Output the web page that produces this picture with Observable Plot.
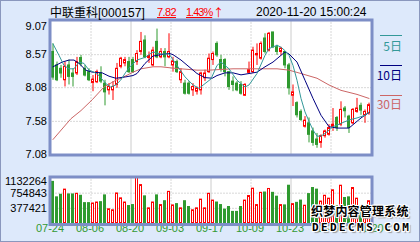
<!DOCTYPE html>
<html><head><meta charset="utf-8">
<script src="https://cdn.jsdelivr.net/npm/d3@7"></script>
<script src="https://cdn.jsdelivr.net/npm/@observablehq/plot@0.6"></script>
<style>
html,body{margin:0;padding:0;background:#dde9fb;}
#wrap{position:relative;width:420px;height:242px;background:#dde9fb;box-shadow:inset 0 0 0 1px #8a97bd;overflow:hidden;}
#wrap svg{position:absolute;left:0;top:0;}
.t{position:absolute;white-space:nowrap;line-height:12px;font-size:12px;}
.asc{font-family:"Liberation Sans",sans-serif;}
.cjk{font-family:"Noto Sans CJK SC",sans-serif;}
.wm{position:absolute;white-space:nowrap;color:#000;font-weight:bold;
 text-shadow:1px 0 0 #fff,-1px 0 0 #fff,0 1px 0 #fff,0 -1px 0 #fff,1px 1px 0 #fff,-1px -1px 0 #fff,1px -1px 0 #fff,-1px 1px 0 #fff,2px 2px 1px #999;}
</style></head>
<body>
<div id="wrap">
  <div class="t" style="left:50px;top:6px;"><span class="cjk">中联重科</span><span class="asc">[000157]</span></div>
  <div class="t asc" style="left:157px;top:6px;color:#f00;text-decoration:underline;font-size:11px;letter-spacing:-0.6px;">7.82</div>
  <div class="t asc" style="left:186px;top:6px;color:#f00;text-decoration:underline;font-size:11px;letter-spacing:-1px;">1.43%</div>
  <div class="t cjk" style="left:213px;top:6px;color:#f00;font-size:11px;">↑</div>
  <div class="t asc" style="left:256px;top:6px;">2020-11-20 15:00:24</div>

  <div style="position:absolute;left:380px;top:35px;width:22px;height:1px;background:#339999"></div>
  <div class="t cjk" style="left:360px;width:42px;text-align:right;top:40px;color:#339999;">5日</div>
  <div style="position:absolute;left:380px;top:65px;width:22px;height:1px;background:#000080"></div>
  <div class="t cjk" style="left:360px;width:42px;text-align:right;top:69px;color:#000080;">10日</div>
  <div style="position:absolute;left:380px;top:95px;width:22px;height:1px;background:#cc6666"></div>
  <div class="t cjk" style="left:360px;width:42px;text-align:right;top:98px;color:#cc6666;">30日</div>
</div>
<script>
// ---- data ----
const dateLabels = ["07-24","08-06","08-20","09-03","09-17","10-09","10-23","11-06","11-20"];
const priceTicks = [9.07, 8.57, 8.08, 7.58, 7.08];
const volTicks = [1132264, 754843, 377421];

const open = [8.61,8.41,8.36,8.19,8.41,8.29,8.29,8.52,8.36,8.31, 8.15,8.16,8.29,8.14,8.04,8.04,8.12,8.39,8.44,8.46,
 8.49,8.46,8.61,8.78,8.52,8.41,8.76,8.53,8.61,8.53, 8.41,8.46,8.19,8.14,8.14,8.04,8.02,8.04,8.22,8.31,
 8.49,8.73,8.49,8.49,8.31,8.17,8.14,8.12,7.96,8.30, 8.31,8.56,8.51,8.81,8.63,8.90,8.68,8.61,8.61,8.41,
 7.96,7.85,7.72,7.50,7.55,7.43,7.31,7.26,7.36,7.38, 7.50,7.63,7.53,7.77,7.65,7.55,7.72,7.81,7.67,7.70];
const close = [8.23,8.19,8.29,8.39,8.24,8.24,8.46,8.43,8.26,8.19, 8.20,8.31,8.17,8.01,8.09,8.09,8.36,8.51,8.49,8.31,
 8.31,8.58,8.76,8.53,8.55,8.63,8.53,8.61,8.53,8.61, 8.47,8.31,8.31,7.99,7.99,8.09,8.07,8.29,8.29,8.51,
 8.58,8.56,8.36,8.31,8.09,8.12,8.04,7.99,8.12,8.34, 8.63,8.58,8.73,8.61,8.88,8.68,8.61,8.66,8.41,8.07,
 8.01,7.67,7.60,7.59,7.38,7.26,7.23,7.36,7.43,7.48, 7.53,7.48,7.75,7.73,7.48,7.75,7.77,7.74,7.72,7.82];
const high = [8.73,8.46,8.41,8.46,8.49,8.36,8.53,8.56,8.41,8.36, 8.26,8.34,8.39,8.19,8.14,8.17,8.44,8.53,8.53,8.53,
 8.53,8.63,8.90,8.85,8.61,8.68,8.95,8.66,8.66,8.88, 8.53,8.49,8.36,8.19,8.17,8.14,8.09,8.31,8.34,8.58,
 8.61,8.76,8.56,8.51,8.31,8.24,8.17,8.17,8.14,8.46, 8.68,8.73,8.76,8.88,8.90,8.90,8.71,8.68,8.61,8.44,
 8.12,7.87,7.75,7.65,7.63,7.48,7.40,7.38,7.45,7.53, 7.77,7.65,7.87,7.80,7.67,7.77,7.92,7.85,7.75,7.85];
const low = [8.19,8.17,8.22,8.09,8.12,8.09,8.26,8.39,8.24,8.17, 8.02,8.14,8.14,7.81,7.97,7.89,8.07,8.36,8.39,8.29,
 8.29,8.41,8.56,8.51,8.44,8.39,8.51,8.51,8.39,8.51, 8.31,8.29,8.14,7.97,7.97,7.95,7.97,7.97,8.17,8.29,
 8.41,8.53,8.31,8.24,8.04,8.02,8.02,7.97,7.95,8.29, 8.29,8.41,8.49,8.58,8.61,8.66,8.56,8.56,8.36,7.97,
 7.80,7.63,7.58,7.48,7.26,7.21,7.18,7.18,7.33,7.36, 7.43,7.43,7.50,7.63,7.40,7.53,7.70,7.67,7.55,7.67];
const volume = [1036000,650000,715000,843000,723000,723000,739000,690000,506000,506000,
 498000,522000,530000,699000,353000,329000,747000,626000,522000,434000,
 458000,1132264,956000,675000,377000,522000,699000,458000,554000,787000,
 450000,482000,377000,554000,410000,329000,377000,594000,377000,739000,
 570000,522000,458000,345000,410000,289000,289000,410000,570000,683000,
 867000,458000,763000,771000,859000,763000,667000,458000,450000,940000,
 482000,514000,570000,442000,731000,883000,843000,546000,690000,618000,
 827000,426000,940000,634000,650000,883000,618000,418000,418000,554000];

const ma5 = [[0,8.73],[1.5,8.56],[2.75,8.41],[4,8.36],[5.25,8.36],[6.5,8.46],[7.75,8.44],[9,8.34],[10.25,8.31],[11.5,8.26],
 [13.2,8.14],[14.4,8.09],[15.7,8.12],[16.9,8.19],[18.2,8.31],[19.4,8.40],[21,8.49],[23,8.53],[25,8.61],[27,8.58],
 [29,8.58],[31,8.41],[33,8.24],[35,8.12],[36.5,8.07],[38,8.14],[39.5,8.21],[41,8.41],[42,8.46],[44,8.36],
 [46,8.19],[48,8.09],[49,8.12],[51,8.29],[53,8.56],[54,8.66],[56,8.71],[57,8.68],[58,8.63],[59,8.56],
 [60,8.41],[61,8.19],[62,7.92],[63,7.72],[64,7.58],[65,7.45],[66,7.36],[67,7.36],[68,7.40],[69,7.45],
 [70,7.50],[72,7.55],[74,7.60],[76,7.63],[78,7.67],[79,7.72]];
const ma10 = [[0,8.39],[2.3,8.46],[4,8.49],[5.25,8.49],[6.5,8.44],[8.2,8.34],[9.8,8.31],[12.3,8.30],[14,8.25],[15.7,8.22],
 [18.2,8.24],[20,8.26],[21,8.29],[23,8.44],[25,8.55],[27,8.57],[29,8.59],[30,8.57],[32,8.49],[34,8.39],
 [36,8.29],[38,8.23],[39.8,8.22],[41,8.26],[43,8.30],[45,8.30],[47,8.27],[49,8.29],[51,8.31],[53,8.39],
 [55,8.46],[57,8.56],[58,8.61],[59,8.58],[61,8.46],[63,8.19],[65,7.92],[67,7.67],[69,7.50],[71,7.48],
 [73,7.48],[74,7.48],[76,7.58],[77,7.63],[79,7.71]];
const ma30 = [[0,7.31],[4.5,7.62],[7,7.74],[9.8,7.90],[12.75,8.09],[15.7,8.19],[17,8.22],[20,8.31],[22,8.36],[25,8.39],
 [27,8.39],[30,8.37],[32,8.36],[36,8.34],[39,8.34],[45,8.36],[52,8.36],[56,8.36],[59,8.34],[62,8.29],
 [66,8.22],[69,8.12],[72,8.04],[76,7.98],[79,7.92]];

// ---- styles ----
const W = 420, H = 242;
const GREEN = "#2f9a2f", RED = "#ff0000", FRAME = "#7d8ec6", GRID = "#b0b0b0", SOLID = "#cccccc";
const xOpt = {domain: [0, 80], range: [50.5, 370.5], axis: null};
const dotX = [10, 30, 50, 70], solidX = [20, 40, 60];
const tickFont = {fontSize: 11, fontFamily: "Liberation Sans", fill: "black"};

const rows = open.map((o, i) => ({i, o, c: close[i], h: high[i], l: low[i], v: volume[i], up: close[i] >= o}));
const ups = rows.filter(d => d.up), downs = rows.filter(d => !d.up);
const bx1 = d => d.i + 0.25, bx2 = d => d.i + 0.75, cx = d => d.i + 0.5;

const main = Plot.plot({
  width: W, height: H,
  marginLeft: 49.5, marginRight: 48.5, marginTop: 19.5, marginBottom: H - 154.5,
  x: xOpt,
  y: {domain: [7.08, 9.07], range: [154.5, 20.5], axis: null},
  style: {background: "transparent", overflow: "visible"},
  marks: [
    Plot.frame({fill: "white"}),
    Plot.ruleY(priceTicks.slice(1, 4), {stroke: GRID, strokeDasharray: "1,2"}),
    Plot.ruleX(dotX, {stroke: GRID, strokeDasharray: "1,2"}),
    Plot.ruleX(solidX, {stroke: SOLID}),
    Plot.ruleX(downs, {x: cx, y1: "l", y2: "h", stroke: GREEN}),
    Plot.ruleX(ups, {x: cx, y1: "l", y2: "h", stroke: RED}),
    Plot.rect(downs, {x1: bx1, x2: bx2, y1: "o", y2: "c", fill: GREEN, stroke: GREEN}),
    Plot.rect(ups, {x1: bx1, x2: bx2, y1: "o", y2: "c", fill: "white", stroke: RED}),
    Plot.line(ma30, {x: d => d[0] + 0.5, y: d => d[1], stroke: "#cc6666", strokeWidth: 1}),
    Plot.line(ma10, {x: d => d[0] + 0.5, y: d => d[1], stroke: "#000080", strokeWidth: 1}),
    Plot.line(ma5, {x: d => d[0] + 0.5, y: d => d[1], stroke: "#339999", strokeWidth: 1}),
    Plot.text(priceTicks.slice(0, 1), {y: d => d, text: d => d.toFixed(2), frameAnchor: "left", textAnchor: "end", dx: -3, dy: 5, ...tickFont}),
    Plot.text(priceTicks.slice(1, 4), {y: d => d, text: d => d.toFixed(2), frameAnchor: "left", textAnchor: "end", dx: -3, ...tickFont}),
    Plot.text(priceTicks.slice(4), {y: d => d, text: d => d.toFixed(2), frameAnchor: "left", textAnchor: "end", dx: -3, dy: -1, ...tickFont}),
    Plot.frame({stroke: FRAME, strokeWidth: 3})
  ]
});

const vol = Plot.plot({
  width: W, height: H,
  marginLeft: 49.5, marginRight: 48.5, marginTop: 176.5, marginBottom: H - 224,
  x: xOpt,
  y: {domain: [0, 1132264], range: [223, 177.5], axis: null},
  style: {background: "transparent", overflow: "visible"},
  marks: [
    Plot.frame({fill: "white"}),
    Plot.ruleY(volTicks.slice(1), {stroke: GRID, strokeDasharray: "1,2"}),
    Plot.ruleX(dotX, {stroke: GRID, strokeDasharray: "1,2"}),
    Plot.ruleX(solidX, {stroke: SOLID}),
    Plot.rect(downs, {x1: bx1, x2: bx2, y1: 0, y2: "v", fill: GREEN, stroke: GREEN}),
    Plot.rect(ups, {x1: bx1, x2: bx2, y1: 0, y2: "v", fill: "white", stroke: RED}),
    Plot.text(volTicks.slice(0, 1), {y: d => d, text: d => String(d), frameAnchor: "left", textAnchor: "end", dx: -3, dy: 3, ...tickFont}),
    Plot.text(volTicks.slice(1), {y: d => d, text: d => String(d), frameAnchor: "left", textAnchor: "end", dx: -3, ...tickFont}),
    Plot.text(dateLabels, {x: (d, i) => i * 10, text: d => d, frameAnchor: "bottom", dy: 7, dx: -1, fontSize: 11, fontFamily: "Liberation Sans", fill: "#339933"}),
    Plot.frame({stroke: FRAME, strokeWidth: 3})
  ]
});

const wrap = document.getElementById("wrap");
wrap.insertBefore(vol, wrap.firstChild);
wrap.insertBefore(main, wrap.firstChild);

const wm1 = document.createElement("div");
wm1.className = "wm";
wm1.style.cssText = "left:311px;top:204px;font-size:12px;line-height:14px;font-family:'Noto Sans CJK SC',sans-serif;letter-spacing:0.2px;";
wm1.textContent = "织梦内容管理系统";
const wm2 = document.createElement("div");
wm2.className = "wm";
wm2.style.cssText = "left:312px;top:222px;font-size:11px;line-height:11px;font-family:'DejaVu Sans Mono',monospace;letter-spacing:2.4px;";
wm2.textContent = "DEDECMS.COM";
wrap.appendChild(wm1);
wrap.appendChild(wm2);
</script>
</body></html>
